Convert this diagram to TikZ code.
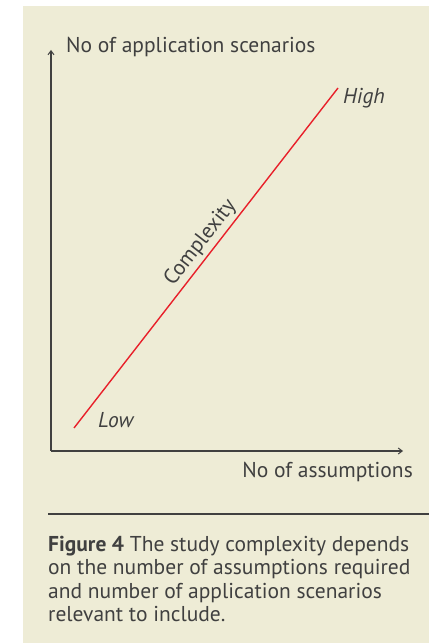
\documentclass[tikz,border=0pt]{standalone}
\usepackage{fontspec}
\setmainfont{PT Sans}
\usepackage{tikz}
\usetikzlibrary{arrows.meta, positioning}
\definecolor{fondoBeige}{RGB}{238,236,214}
\definecolor{grisTexto}{RGB}{64,64,64}
\definecolor{rojoLinea}{RGB}{232,32,42}
\tikzset{
  ax/axis/.style={draw=grisTexto, line width=1.3pt,
    -{Straight Barb[length=4pt,width=6pt,line width=1pt]}},
  ax/lbl/.style={font=\fontsize{21.5}{25}\selectfont\color{grisTexto},
    inner sep=0pt},
  ax/lvl/.style={font=\fontsize{21.5}{25}\selectfont\itshape\color{grisTexto},
    inner sep=0pt},
  ax/trend/.style={draw=rojoLinea, line width=1.4pt},
  ax/cap/.style={font=\fontsize{21.5}{23.5}\selectfont\color{grisTexto},
    align=left, inner sep=0pt}
}
\begin{document}
\begin{tikzpicture}[x=1pt, y=1pt]
  \useasboundingbox (0,0) rectangle (429,643);
  \fill[fondoBeige] (23,0) rectangle (429,637);

  % ejes
  \coordinate (o) at (51,192);
  \coordinate (ytop) at (51,593);
  \coordinate (xend) at (403,192);
  \draw[ax/axis] (o) -- (ytop);
  \draw[ax/axis] (o) -- (xend);
  \node[ax/lbl, anchor=base west] (ylab) at (66,590) {No of application scenarios};
  \node[ax/lbl, anchor=base east] (xlab) at (413,165) {No of assumptions};

  % tendencia
  \coordinate (lo) at (74,215);
  \coordinate (hi) at (338,555);
  \draw[ax/trend] (lo) -- node[ax/lbl, sloped, above, pos=0.52, inner sep=3pt] (cx) {Complexity} (hi);
  \node[ax/lvl, anchor=base west] (high) at (343,539) {High};
  \node[ax/lvl, anchor=base west] (low) at (98,215) {Low};

  % leyenda
  \coordinate (r1) at (48,129);
  \coordinate (r2) at (429,129);
  \draw[grisTexto, line width=2pt] (r1) -- (r2);
  \node[ax/cap, anchor=north west] (cap) at (48,107)
    {\textbf{Figure 4} The study complexity depends\\
     on the number of assumptions required\\
     and number of application scenarios\\
     relevant to include.};
\end{tikzpicture}
\end{document}
